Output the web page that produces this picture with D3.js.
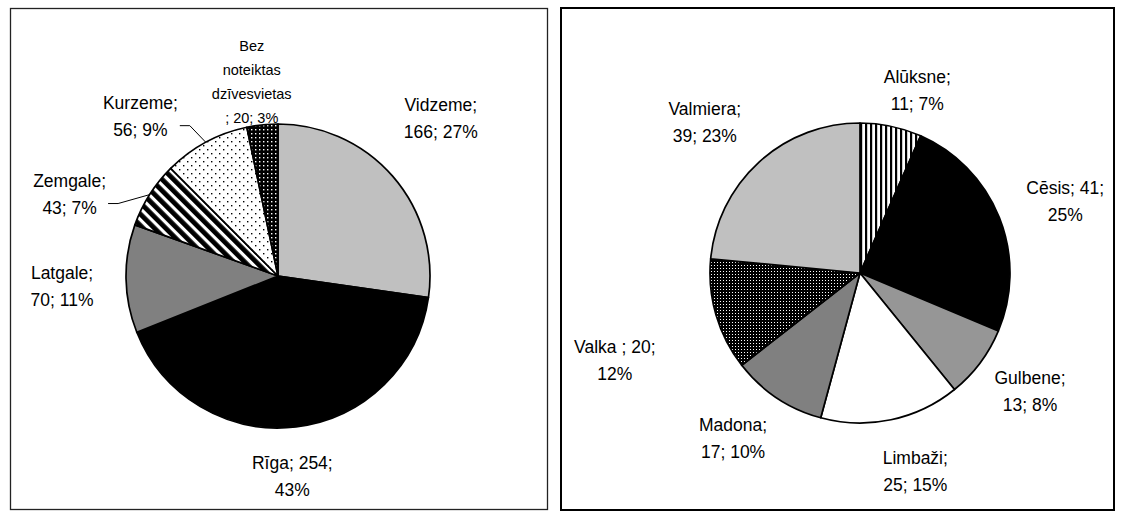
<!DOCTYPE html>
<meta charset="utf-8">
<script src="https://d3js.org/d3.v7.min.js"></script>
<style>
  body { margin: 0; background: #fff; }
  text { font-family: "Liberation Sans", Arial, sans-serif; fill: #000; }
</style>
<div id="my_dataviz"></div>
<script>

// left pie: regions
var regions = ["Vidzeme", "Rīga", "Latgale", "Zemgale", "Kurzeme", "Bez noteiktas dzīvesvietas "];
var regionValues = [166, 254, 70, 43, 56, 20];
var regionPercents = [27, 43, 11, 7, 9, 3];

// right pie: districts of Vidzeme
var districts = ["Alūksne", "Cēsis", "Gulbene", "Limbaži", "Madona", "Valka ", "Valmiera"];
var districtValues = [11, 41, 13, 25, 17, 20, 39];
var districtPercents = [7, 25, 8, 15, 10, 12, 23];

var width = 1125, height = 514;

var svg = d3.select("#my_dataviz")
    .append("svg")
    .attr("width", width)
    .attr("height", height);

// ---- fill patterns (black & white print style) ----
var defs = svg.append("defs");

function pattern(id, w, h, bg, transform) {
    var p = defs.append("pattern")
        .attr("id", id)
        .attr("patternUnits", "userSpaceOnUse")
        .attr("width", w)
        .attr("height", h);
    if (transform) p.attr("patternTransform", transform);
    p.append("rect").attr("width", w).attr("height", h).attr("fill", bg);
    return p;
}

// wide diagonal stripes
pattern("stripes", 8, 8, "#fff", "rotate(-45)")
    .append("rect").attr("width", 4.8).attr("height", 8).attr("fill", "#000");

// sparse black dots on white
var dots = pattern("dots", 8, 8, "#fff");
dots.append("rect").attr("x", 1).attr("y", 1).attr("width", 1.4).attr("height", 1.4).attr("fill", "#000");
dots.append("rect").attr("x", 5).attr("y", 5).attr("width", 1.4).attr("height", 1.4).attr("fill", "#000");

// white dots on black
pattern("darkdots", 4, 4, "#000")
    .append("rect").attr("x", 1).attr("y", 1).attr("width", 1.4).attr("height", 1.4).attr("fill", "#fff");

// narrow vertical stripes
pattern("vstripes", 5, 5, "#fff")
    .append("rect").attr("width", 2.2).attr("height", 5).attr("fill", "#000");

// dense grid of white dots on black
pattern("grid", 3, 3, "#000")
    .append("rect").attr("x", 1).attr("y", 1).attr("width", 1).attr("height", 1).attr("fill", "#fff");

// ---- frames ----
svg.append("rect")
    .attr("x", 10.5).attr("y", 8.5).attr("width", 537).attr("height", 501)
    .attr("fill", "none").attr("stroke", "#222").attr("stroke-width", 1.3);
svg.append("rect")
    .attr("x", 561).attr("y", 8).attr("width", 553).attr("height", 502)
    .attr("fill", "none").attr("stroke", "#000").attr("stroke-width", 2);

// ---- layout of each pie (positions, styles) ----
var leftLayout = {
    cx: 278, cy: 276, r: 152,
    fills: ["#c0c0c0", "#000", "#808080", "url(#stripes)", "url(#dots)", "url(#darkdots)"],
    wrap: [[1, 2], [2, 1], [1, 2], [1, 2], [1, 2], [1, 1, 1, 3]],
    nudge: [[14, -29], [-9, 5], [-19, 7], [-42, 24], [-44, 14], [-6, 2]],
    small: [false, false, false, false, false, true],
    leader: [false, false, false, true, true, false]
};

var rightLayout = {
    cx: 860, cy: 273, r: 150,
    fills: ["url(#vstripes)", "#000", "#969696", "#fff", "#808080", "url(#grid)", "#c0c0c0"],
    wrap: [[1, 2], [2, 1], [1, 2], [1, 2], [1, 2], [3, 1], [1, 2]],
    nudge: [[17, 8], [24, 0], [14, 1], [15, 7], [-19, 3], [-58, 33], [-24, -7]],
    small: [false, false, false, false, false, false, false],
    leader: [false, false, false, false, false, false, false]
};

function drawPie(names, values, percents, L) {
    var data = names.map(function(n, i) {
        return { name: n, value: values[i], pct: percents[i], i: i };
    });

    var pie = d3.pie().sort(null).value(function(d) { return d.value; });
    var arcs = pie(data);

    var arc = d3.arc().innerRadius(0).outerRadius(L.r);
    var labelArc = d3.arc().innerRadius(L.r + 45).outerRadius(L.r + 45);
    var edgeArc = d3.arc().innerRadius(L.r).outerRadius(L.r);

    var g = svg.append("g")
        .attr("transform", "translate(" + L.cx + "," + L.cy + ")");

    g.selectAll("path")
        .data(arcs)
        .enter().append("path")
            .attr("d", arc)
            .attr("fill", function(d) { return L.fills[d.data.i]; })
            .attr("stroke", "#000")
            .attr("stroke-width", 1.7)
            .attr("stroke-linejoin", "round");

    // data labels: "name; value; pct%" wrapped like Excel did
    arcs.forEach(function(d) {
        var i = d.data.i;
        var words = (d.data.name + "; " + d.data.value + "; " + d.data.pct + "%").split(" ");
        var lines = [], k = 0;
        L.wrap[i].forEach(function(n) {
            lines.push(words.slice(k, k + n).join(" "));
            k += n;
        });

        var fs = L.small[i] ? 14.5 : 17.5;
        var lh = L.small[i] ? 24 : 27;
        var c = labelArc.centroid(d);
        var x = c[0] + L.nudge[i][0];
        var y = c[1] + L.nudge[i][1];

        var t = g.append("text")
            .attr("text-anchor", "middle")
            .style("font-size", fs + "px");
        lines.forEach(function(s, j) {
            t.append("tspan")
                .attr("x", x)
                .attr("y", y + (j - (lines.length - 1) / 2) * lh + fs * 0.36)
                .text(s);
        });

        if (L.leader[i]) {
            var w = t.node().getBBox().width;
            var x0 = x + w / 2 + 2, y0 = y + 9;
            var e = edgeArc.centroid(d);
            g.append("polyline")
                .attr("points", [[x0, y0], [x0 + 10, y0], e].join(" "))
                .attr("fill", "none")
                .attr("stroke", "#000")
                .attr("stroke-width", 1);
        }
    });
}

drawPie(regions, regionValues, regionPercents, leftLayout);
drawPie(districts, districtValues, districtPercents, rightLayout);

</script>
